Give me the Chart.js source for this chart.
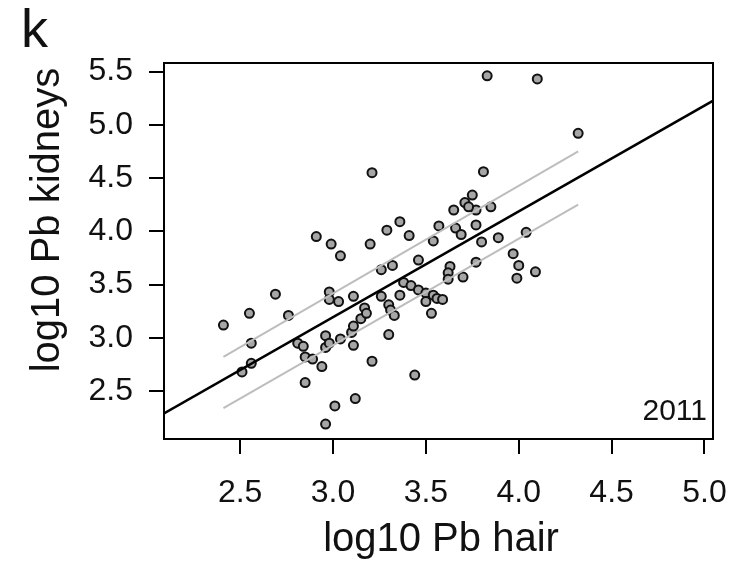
<!DOCTYPE html>
<html>
<head>
<meta charset="utf-8">
<script src="https://cdn.jsdelivr.net/npm/chart.js@4.4.0/dist/chart.umd.min.js"></script>
<style>
    body { margin: 0; background: #fff; }
    #wrap { width: 731px; height: 563px; }
</style>
</head>
<body>
<div id="wrap"><canvas id="myScatter"></canvas></div>
<script>
// log10 Pb hair (x) va log10 Pb kidneys (y), 2011
const hairX = [
    3.21, 2.91, 2.99, 3.04, 3.20, 3.29, 3.36, 3.41, 3.26, 3.32,
    3.46, 3.54, 3.57, 2.69, 2.55, 2.41, 2.76, 2.98, 2.98, 3.03,
    3.11, 2.56, 2.56, 2.51, 2.81, 2.84, 2.85, 2.89, 2.94, 2.85,
    2.96, 2.96, 2.98, 3.04, 3.10, 3.11, 3.11, 3.15, 3.17, 3.18,
    3.21, 3.01, 3.12, 2.96, 3.44, 3.26, 3.30, 3.31, 3.33, 3.30,
    3.36, 3.38, 3.42, 3.46, 3.50, 3.50, 3.54, 3.53, 3.56,
    3.83, 4.10, 4.32, 3.81, 3.75, 3.71, 3.65, 3.77, 3.85, 3.73,
    3.66, 3.69, 3.77, 3.80, 3.89, 4.04, 3.97, 4.00, 3.99, 4.09,
    3.77, 3.63, 3.62, 3.62, 3.70, 3.59
];
const kidneyY = [
    4.55, 3.95, 3.88, 3.77, 3.88, 4.01, 4.09, 3.96, 3.64, 3.68,
    3.73, 3.91, 4.05, 3.41, 3.23, 3.12, 3.21, 3.43, 3.36, 3.34,
    3.39, 2.95, 2.76, 2.68, 2.95, 2.92, 2.82, 2.80, 2.73, 2.58,
    3.02, 2.91, 2.95, 2.99, 3.05, 3.11, 2.93, 3.18, 3.28, 3.23,
    2.78, 2.36, 2.43, 2.19, 2.65, 3.39, 3.31, 3.26, 3.21, 3.03,
    3.40, 3.52, 3.49, 3.45, 3.42, 3.34, 3.40, 3.23, 3.37,
    5.46, 5.43, 4.92, 4.56, 4.34, 4.27, 4.20, 4.20, 4.23, 4.23,
    4.03, 3.97, 4.06, 3.90, 3.94, 3.99, 3.79, 3.68, 3.56, 3.62,
    3.71, 3.67, 3.61, 3.55, 3.57, 3.36
];

// regressiya chizig'i va ishonch chegaralari (rasmdan o'qilgan uchlari)
const fitX = [2.09, 5.05];
const fitY = [2.29, 5.23];
const bandX = [2.41, 4.32];
const upperY = [2.82, 4.75];
const lowerY = [2.34, 4.25];

const xTicks = [2.5, 3.0, 3.5, 4.0, 4.5, 5.0];
const yTicks = [2.5, 3.0, 3.5, 4.0, 4.5, 5.0, 5.5];

const panelLabel = 'k';
const yearLabel = '2011';
const xTitle = 'log10 Pb hair';
const yTitle = 'log10 Pb kidneys';

const FONT = '"Liberation Sans", Arial, Helvetica, sans-serif';

const toPoints = (xs, ys) => xs.map((x, i) => ({ x: x, y: ys[i] }));

// ramka, sarlavhalar va yozuvlar
const framePlugin = {
    id: 'framePlugin',
    afterDatasetsDraw(chart) {
        const { ctx, chartArea: a } = chart;
        ctx.save();
        ctx.strokeStyle = '#000';
        ctx.lineWidth = 2;
        ctx.strokeRect(a.left, a.top, a.right - a.left, a.bottom - a.top);

        ctx.fillStyle = '#111';
        ctx.textBaseline = 'alphabetic';

        ctx.font = '30px ' + FONT;
        ctx.textAlign = 'right';
        ctx.fillText(yearLabel, a.right - 6, a.bottom - 19);

        ctx.font = '54px ' + FONT;
        ctx.textAlign = 'left';
        ctx.fillText(panelLabel, 21, 47);

        ctx.font = '40px ' + FONT;
        ctx.textAlign = 'center';
        ctx.fillText(xTitle, 441, 551);

        ctx.translate(59, 220);
        ctx.rotate(-Math.PI / 2);
        ctx.fillText(yTitle, 0, 0);
        ctx.restore();
    }
};

const ctx = document.getElementById('myScatter').getContext('2d');
new Chart(ctx, {
    type: 'scatter',
    data: {
        datasets: [
            {
                label: 'fit',
                data: toPoints(fitX, fitY),
                showLine: true,
                borderColor: '#000',
                borderWidth: 2.5,
                pointRadius: 0,
                order: 0
            },
            {
                label: 'upper',
                data: toPoints(bandX, upperY),
                showLine: true,
                borderColor: '#bdbdbd',
                borderWidth: 2,
                pointRadius: 0,
                order: 1
            },
            {
                label: 'lower',
                data: toPoints(bandX, lowerY),
                showLine: true,
                borderColor: '#bdbdbd',
                borderWidth: 2,
                pointRadius: 0,
                order: 1
            },
            {
                label: '2011',
                data: toPoints(hairX, kidneyY),
                backgroundColor: '#a6a6a6',
                borderColor: '#111',
                borderWidth: 2,
                pointRadius: 4.5,
                order: 2
            }
        ]
    },
    options: {
        responsive: true,
        maintainAspectRatio: false,
        animation: false,
        layout: {
            padding: { top: 63, right: 18, left: 0, bottom: 0 }
        },
        plugins: {
            legend: { display: false },
            tooltip: { enabled: false }
        },
        scales: {
            x: {
                type: 'linear',
                min: 2.09,
                max: 5.046,
                afterFit(scale) {
                    scale.height = 124;
                    scale.paddingLeft = 0;
                    scale.paddingRight = 0;
                },
                afterBuildTicks(scale) { scale.ticks = xTicks.map(v => ({ value: v })); },
                border: { display: false },
                grid: {
                    drawOnChartArea: false,
                    drawTicks: true,
                    tickLength: 15,
                    color: '#000',
                    lineWidth: 2
                },
                ticks: {
                    padding: 20,
                    color: '#111',
                    font: { size: 32, family: FONT },
                    callback: v => Number(v).toFixed(1)
                }
            },
            y: {
                type: 'linear',
                min: 2.05,
                max: 5.58,
                afterFit(scale) {
                    scale.width = 164;
                    scale.paddingTop = 0;
                    scale.paddingBottom = 0;
                },
                afterBuildTicks(scale) { scale.ticks = yTicks.map(v => ({ value: v })); },
                border: { display: false },
                grid: {
                    drawOnChartArea: false,
                    drawTicks: true,
                    tickLength: 15,
                    color: '#000',
                    lineWidth: 2
                },
                ticks: {
                    padding: 16,
                    color: '#111',
                    font: { size: 32, family: FONT },
                    callback: v => Number(v).toFixed(1)
                }
            }
        }
    },
    plugins: [framePlugin]
});
</script>
</body>
</html>
